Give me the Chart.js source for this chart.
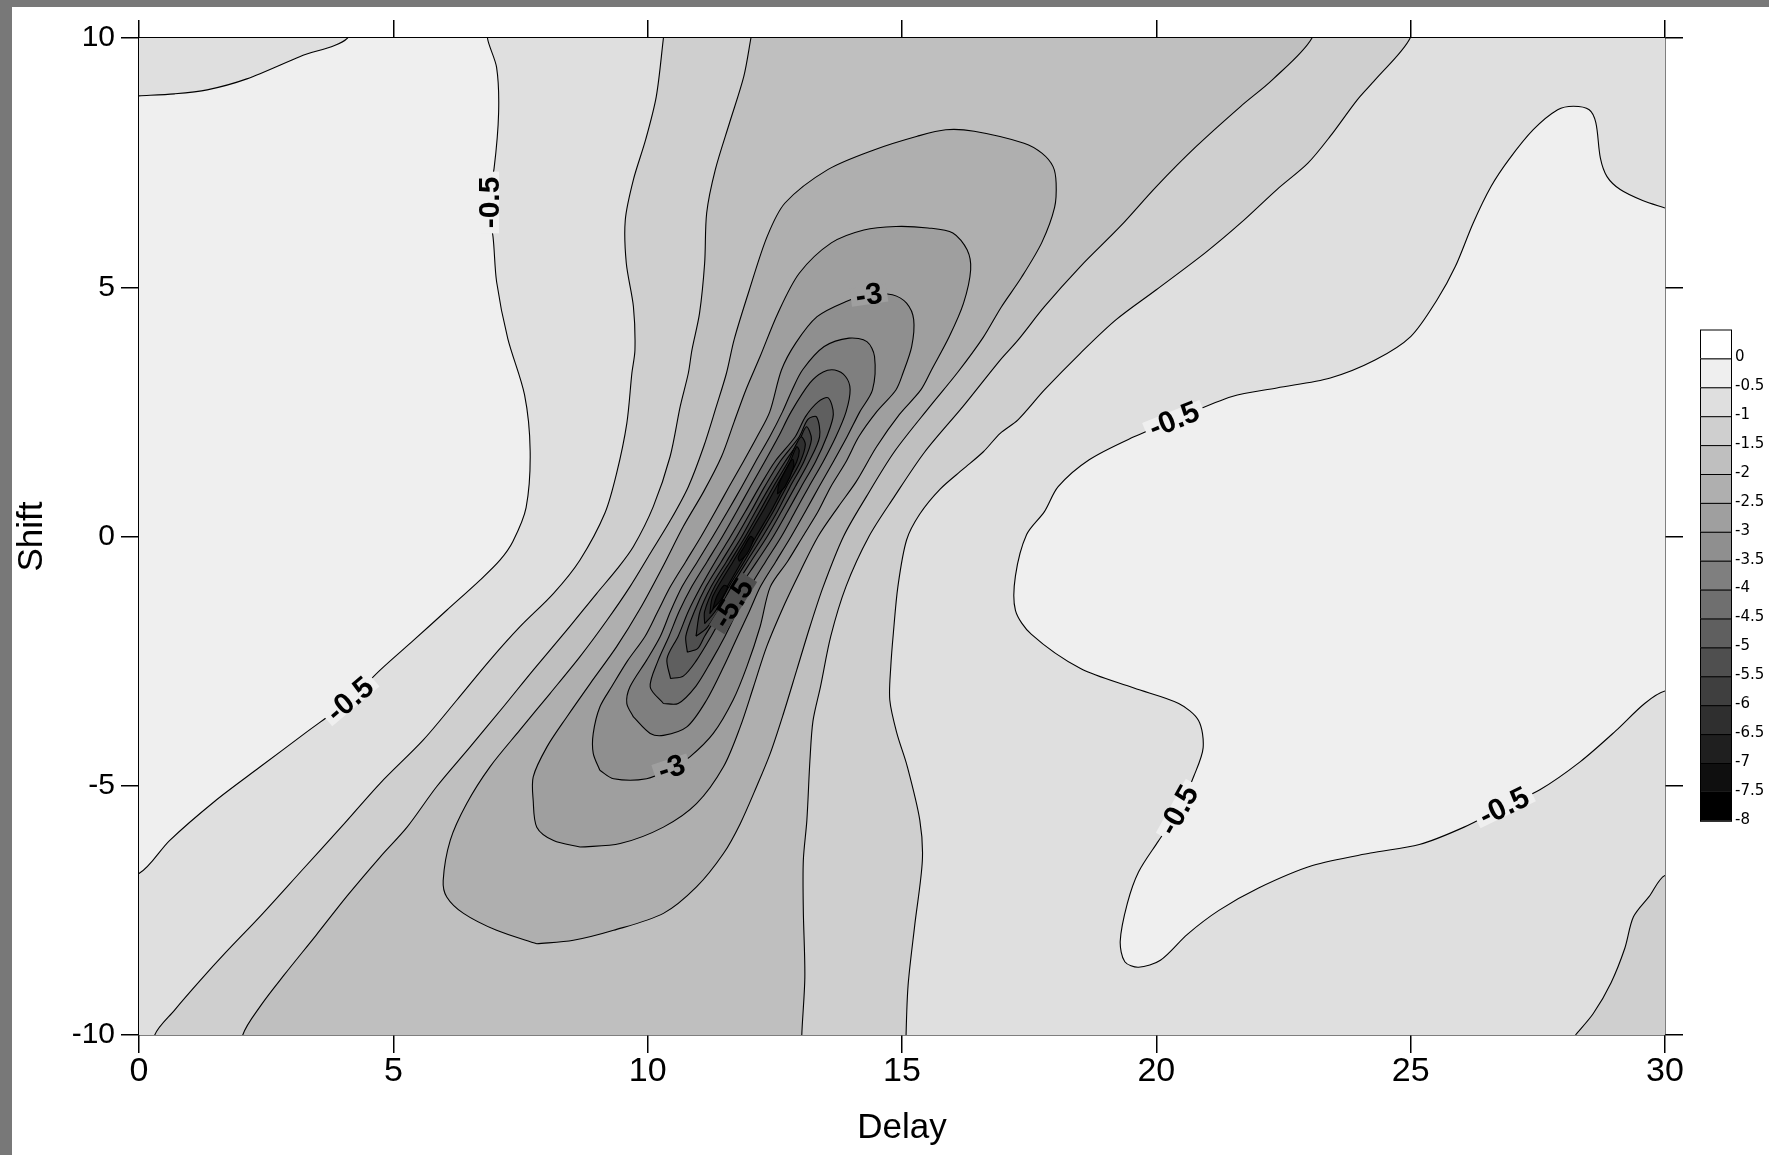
<!DOCTYPE html>
<html>
<head>
<meta charset="utf-8">
<script src="https://cdn.jsdelivr.net/npm/chart.js@4.4.1/dist/chart.umd.min.js"></script>
<style>
  html, body { margin: 0; padding: 0; background: #fff; }
  #frame { width: 1757px; height: 1148px; border-left: 12px solid #787878; border-top: 7px solid #787878; }
  canvas { display: block; }
</style>
</head>
<body>
<div id="frame"><canvas id="chartBox" width="1757" height="1148"></canvas></div>
<script>
// contour levels of the delay/shift surface
const levels = [0, -0.5, -1, -1.5, -2, -2.5, -3, -3.5, -4, -4.5, -5, -5.5, -6, -6.5, -7, -7.5, -8]

// contour traces as [delay, shift]
// -0.5, top left corner
const west05Corner = [[0, 8.84], [0.7, 8.88], [1.34, 8.96], [2.12, 9.18], [3.17, 9.63], [4.1, 10]]
// -0.5, left plateau
const west05 = [[6.85, 10], [7.03, 9.41], [7.07, 8.51], [6.98, 7.38], [6.85, 6.69], [6.96, 6.01], [7.03, 5.11],
  [7.25, 3.97], [7.58, 2.84], [7.69, 1.71], [7.61, 0.58], [7.35, -0.1], [7.1, -0.47], [6.71, -0.87], [6.05, -1.48],
  [5.4, -2.08], [4.74, -2.68], [4.15, -3.27], [3.26, -3.95], [2.37, -4.63], [1.49, -5.31], [0.6, -6.1], [0, -6.76]]
// -0.5, right plateau
const east05 = [[30, 6.59], [29.56, 6.74], [29.12, 6.96], [28.86, 7.22], [28.73, 7.59], [28.64, 8.3], [28.51, 8.56],
  [28.2, 8.63], [27.89, 8.56], [27.41, 8.16], [26.93, 7.56], [26.58, 7.02], [26.23, 6.29], [25.88, 5.42], [25.52, 4.75],
  [25.0, 4.01], [24.3, 3.54], [23.42, 3.18], [22.37, 2.98], [21.49, 2.81], [20.35, 2.34], [19.56, 2.0], [18.68, 1.54],
  [18.07, 1.0], [17.8, 0.5], [17.45, 0.04], [17.23, -0.79], [17.23, -1.48], [17.54, -1.96], [18.51, -2.65],
  [19.56, -3.04], [20.44, -3.35], [20.83, -3.69], [20.92, -4.24], [20.74, -4.8], [20.44, -5.49], [20.04, -6.11],
  [19.65, -6.73], [19.43, -7.36], [19.29, -8.12], [19.38, -8.53], [19.65, -8.64], [20.08, -8.5], [20.61, -7.98],
  [21.23, -7.5], [22.01, -7.05], [23.07, -6.6], [24.21, -6.35], [25.17, -6.18], [26.05, -5.83], [26.84, -5.42],
  [27.54, -5.08], [28.33, -4.52], [29.03, -3.9], [29.6, -3.35], [30, -3.1]]
// -1
const west1 = [[10.31, 10], [10.17, 8.83], [9.96, 7.96], [9.72, 7.16], [9.56, 6.35], [9.58, 5.48], [9.72, 4.61],
  [9.75, 3.74], [9.69, 3.28], [9.59, 2.27], [9.39, 1.27], [9.16, 0.47], [8.67, -0.47], [8.15, -1.14], [7.49, -1.81],
  [6.9, -2.48], [6.25, -3.28], [5.59, -4.08], [4.74, -4.95], [4.0, -5.8], [3.2, -6.7], [2.4, -7.6], [1.7, -8.35],
  [1.2, -8.91], [0.7, -9.5], [0.31, -10]]
const east1 = [[15.08, -10], [15.12, -9.0], [15.25, -7.8], [15.4, -6.5], [15.35, -5.69], [15.1, -4.6], [14.9, -3.95],
  [14.76, -3.28], [14.78, -2.6], [14.83, -1.94], [14.92, -1.0], [15.09, -0.07], [15.35, 0.45], [15.75, 0.95],
  [16.2, 1.35], [16.6, 1.7], [16.93, 2.07], [17.28, 2.34], [17.8, 2.94], [18.51, 3.68], [19.21, 4.35], [20.0, 4.95],
  [20.96, 5.69], [21.66, 6.29], [22.37, 6.96], [22.98, 7.49], [23.42, 8.03], [23.95, 8.76], [24.3, 9.16], [24.99, 10]]
const corner1 = [[28.24, -10], [28.59, -9.57], [28.94, -8.95], [29.21, -8.26], [29.38, -7.63], [29.69, -7.22], [30, -6.8]]
// -1.5
const west15 = [[12.03, 10], [11.89, 9.23], [11.61, 8.3], [11.33, 7.36], [11.16, 6.49], [11.12, 5.48], [11.02, 4.48],
  [10.87, 3.74], [10.8, 3.28], [10.64, 2.61], [10.44, 1.6], [10.11, 0.6], [9.72, -0.2], [9.4, -0.65], [9.0, -1.14],
  [8.41, -1.88], [7.75, -2.68], [7.16, -3.42], [6.51, -4.22], [5.85, -5.02], [5.27, -5.83], [4.74, -6.43],
  [4.1, -7.2], [3.48, -8.0], [2.85, -8.8], [2.4, -9.4], [2.04, -10]]
const east15 = [[13.03, -10], [13.09, -8.84], [13.06, -7.5], [13.06, -6.5], [13.13, -5.69], [13.19, -4.49],
  [13.25, -3.7], [13.4, -3.0], [13.6, -2.0], [13.9, -1.0], [14.35, 0.0], [14.85, 0.8], [15.45, 1.7], [16.2, 2.61],
  [16.93, 3.54], [17.28, 3.94], [17.8, 4.61], [18.51, 5.42], [19.29, 6.22], [20.0, 7.02], [20.79, 7.83],
  [21.66, 8.63], [22.28, 9.16], [23.06, 10]]
// closed loops around the trough
const ring2 = [[7.82, -8.17], [8.54, -8.1], [9.33, -7.9], [10.31, -7.56], [10.96, -7.03], [11.49, -6.36], [11.82, -5.76],
  [12.14, -5.02], [12.41, -4.35], [12.67, -3.55], [12.93, -2.68], [13.19, -1.81], [13.45, -1.01], [13.85, 0.0],
  [14.3, 0.8], [14.85, 1.7], [15.55, 2.61], [16.1, 3.3], [16.6, 4.0], [16.95, 4.6], [17.35, 5.2], [17.75, 5.9],
  [18.0, 6.6], [18.03, 7.09], [17.97, 7.42], [17.75, 7.69], [17.4, 7.89], [16.42, 8.13], [15.86, 8.16], [15.3, 8.03],
  [14.46, 7.76], [13.54, 7.36], [12.7, 6.69], [12.35, 6.02], [12.0, 4.95], [11.7, 3.95], [11.55, 3.28], [11.35, 2.61],
  [11.1, 1.8], [10.8, 1.0], [10.45, 0.33], [10.05, -0.34], [9.65, -1.01], [9.2, -1.68], [8.67, -2.41], [8.08, -3.15],
  [7.49, -3.88], [6.9, -4.62], [6.44, -5.36], [6.12, -6.09], [5.98, -6.9], [6.05, -7.23], [6.38, -7.56], [7.03, -7.9]]
const ring25 = [[8.67, -6.23], [9.46, -6.16], [10.31, -5.83], [10.96, -5.36], [11.49, -4.62], [11.82, -3.82],
  [12.08, -3.02], [12.34, -2.21], [12.7, -1.34], [13.0, -0.7], [13.35, 0.0], [13.75, 0.6], [14.1, 1.1], [14.5, 1.8],
  [14.95, 2.45], [15.37, 2.94], [15.58, 3.34], [15.93, 4.01], [16.21, 4.68], [16.35, 5.35], [16.28, 5.75],
  [16.0, 6.09], [15.51, 6.19], [14.88, 6.22], [14.25, 6.15], [13.61, 5.89], [12.98, 5.28], [12.56, 4.48],
  [12.21, 3.61], [11.93, 2.94], [11.7, 2.3], [11.45, 1.6], [11.1, 0.9], [10.7, 0.2], [10.3, -0.6], [9.85, -1.45],
  [9.39, -2.21], [8.87, -2.95], [8.41, -3.62], [8.02, -4.22], [7.75, -4.82], [7.75, -5.3], [7.82, -5.83], [8.15, -6.1]]
const ring3 = [[9.06, -4.69], [9.33, -4.86], [9.98, -4.86], [10.47, -4.65], [10.83, -4.42], [11.29, -3.95],
  [11.68, -3.28], [11.95, -2.61], [12.21, -1.81], [12.41, -1.01], [12.75, -0.5], [13.05, 0.0], [13.35, 0.5],
  [13.6, 1.0], [13.9, 1.5], [14.15, 2.0], [14.5, 2.5], [14.88, 2.94], [15.02, 3.28], [15.19, 3.81], [15.23, 4.35],
  [15.09, 4.68], [14.81, 4.85], [14.35, 4.85], [13.89, 4.71], [13.33, 4.41], [12.91, 3.88], [12.63, 3.34],
  [12.4, 2.5], [12.15, 2.0], [11.88, 1.5], [11.6, 1.0], [11.33, 0.5], [11.05, 0.0], [10.75, -0.5], [10.45, -1.0],
  [10.2, -1.5], [9.95, -2.0], [9.6, -2.5], [9.3, -3.0], [9.06, -3.42], [8.93, -3.95], [8.93, -4.35]]
const ring35 = [[9.72, -3.62], [10.05, -3.95], [10.31, -3.99], [10.77, -3.82], [11.16, -3.28], [11.5, -2.6],
  [11.77, -2.0], [12.0, -1.5], [12.22, -1.0], [12.52, -0.5], [12.82, 0.0], [13.1, 0.5], [13.37, 1.0], [13.65, 1.5],
  [13.92, 2.0], [14.17, 2.5], [14.42, 2.94], [14.46, 3.61], [14.31, 3.91], [13.96, 3.98], [13.47, 3.81],
  [13.05, 3.35], [12.84, 2.94], [12.65, 2.5], [12.4, 2.0], [12.12, 1.5], [11.85, 1.0], [11.57, 0.5], [11.28, 0.0],
  [10.98, -0.5], [10.68, -1.0], [10.45, -1.5], [10.25, -2.0], [9.98, -2.48], [9.65, -3.02], [9.59, -3.35]]
const ring4 = [[10.31, -3.35], [10.6, -3.35], [10.95, -3.0], [11.25, -2.5], [11.52, -2.0], [11.76, -1.5],
  [12.02, -1.0], [12.32, -0.5], [12.63, 0.0], [12.9, 0.5], [13.17, 1.0], [13.45, 1.5], [13.7, 2.0], [13.9, 2.5],
  [13.98, 2.95], [13.89, 3.21], [13.68, 3.34], [13.45, 3.3], [13.19, 3.08], [12.82, 2.5], [12.57, 2.0], [12.3, 1.5],
  [12.02, 1.0], [11.75, 0.5], [11.47, 0.0], [11.17, -0.5], [10.87, -1.0], [10.62, -1.5], [10.42, -2.0],
  [10.2, -2.5], [10.05, -3.02]]
const ring45 = [[10.45, -2.85], [10.7, -2.8], [10.95, -2.5], [11.25, -2.0], [11.52, -1.5], [11.82, -1.0],
  [12.15, -0.5], [12.47, 0.0], [12.75, 0.5], [13.02, 1.0], [13.3, 1.5], [13.52, 2.0], [13.65, 2.45], [13.55, 2.78],
  [13.35, 2.7], [13.1, 2.4], [12.9, 2.0], [12.5, 1.5], [12.2, 1.0], [11.92, 0.5], [11.63, 0.0], [11.33, -0.5],
  [11.05, -1.0], [10.8, -1.5], [10.6, -2.0], [10.38, -2.45]]
const ring5 = [[10.78, -2.32], [10.98, -2.25], [11.12, -2.0], [11.42, -1.5], [11.72, -1.0], [12.03, -0.5],
  [12.35, 0.0], [12.63, 0.5], [12.9, 1.0], [13.17, 1.5], [13.38, 2.0], [13.32, 2.4], [13.15, 2.35], [12.98, 2.0],
  [12.6, 1.5], [12.3, 1.0], [12.03, 0.5], [11.75, 0.0], [11.45, -0.5], [11.15, -1.0], [10.92, -1.5], [10.75, -2.0]]
const ring55 = [[10.95, -2.0], [11.15, -1.85], [11.38, -1.5], [11.65, -1.0], [11.95, -0.5], [12.26, 0.0],
  [12.55, 0.5], [12.8, 1.0], [13.07, 1.5], [13.22, 1.95], [13.12, 2.2], [12.97, 1.9], [12.7, 1.5], [12.4, 1.0],
  [12.12, 0.5], [11.85, 0.0], [11.55, -0.5], [11.25, -1.0], [11.03, -1.5]]
const ring6 = [[11.12, -1.75], [11.33, -1.5], [11.6, -1.0], [11.9, -0.5], [12.18, 0.0], [12.47, 0.5], [12.73, 1.0],
  [13.0, 1.5], [13.1, 1.85], [13.02, 2.0], [12.92, 1.85], [12.76, 1.5], [12.47, 1.0], [12.2, 0.5], [11.92, 0.0],
  [11.62, -0.5], [11.32, -1.0], [11.12, -1.5]]
const ring65 = [[11.22, -1.55], [11.45, -1.2], [11.85, -0.5], [12.13, 0.0], [12.42, 0.5], [12.68, 1.0],
  [12.93, 1.5], [12.98, 1.72], [12.93, 1.8], [12.8, 1.5], [12.53, 1.0], [12.26, 0.5], [11.97, 0.0], [11.68, -0.5],
  [11.28, -1.2]]
// deepest pockets
const pit7a = [[12.55, 0.85], [12.7, 1.0], [12.87, 1.4], [12.85, 1.55], [12.75, 1.4], [12.58, 1.05]]
const pit7b = [[11.8, -0.5], [11.95, -0.35], [12.08, -0.05], [12.02, 0.0], [11.9, -0.2], [11.78, -0.42]]
const pit7c = [[11.28, -1.45], [11.42, -1.3], [11.57, -1.02], [11.5, -0.98], [11.36, -1.2]]

// labels written on the contour lines
const contourLabels = [
  { level: -0.5, delay: 6.9, shift: 6.7, angle: -90 },
  { level: -0.5, delay: 4.15, shift: -3.27, angle: -40 },
  { level: -0.5, delay: 20.35, shift: 2.34, angle: -22 },
  { level: -0.5, delay: 20.44, shift: -5.49, angle: -61 },
  { level: -0.5, delay: 26.84, shift: -5.42, angle: -26 },
  { level: -3, delay: 14.35, shift: 4.84, angle: -8 },
  { level: -3, delay: 10.47, shift: -4.64, angle: -18 },
  { level: -5.5, delay: 11.68, shift: -1.34, angle: -58 },
]

// band: the upper value of the shaded interval inside each region
const regions = [
  { band: 0, paths: [west05Corner, west05] },
  { band: 0, paths: [east05] },
  { band: -1, paths: [west1, east1] },
  { band: -1, paths: [corner1] },
  { band: -1.5, paths: [west15, east15] },
  { band: -2, paths: [ring2] },
  { band: -2.5, paths: [ring25] },
  { band: -3, paths: [ring3] },
  { band: -3.5, paths: [ring35] },
  { band: -4, paths: [ring4] },
  { band: -4.5, paths: [ring45] },
  { band: -5, paths: [ring5] },
  { band: -5.5, paths: [ring55] },
  { band: -6, paths: [ring6] },
  { band: -6.5, paths: [ring65] },
  { band: -7, paths: [pit7a] },
  { band: -7, paths: [pit7b] },
  { band: -7, paths: [pit7c] },
]

const X_MIN = 0, X_MAX = 30, Y_MIN = -10, Y_MAX = 10, PAD = 0.6

const grayOf = (upper) => {
  const g = Math.max(0, Math.round(239 + 32 * upper))
  return `rgb(${g},${g},${g})`
}

const edgeOf = ([x, y]) => {
  if (x <= X_MIN) return 'left'
  if (x >= X_MAX) return 'right'
  if (y >= Y_MAX) return 'top'
  if (y <= Y_MIN) return 'bottom'
  return null
}

const pushOut = (p) => {
  const [x, y] = p
  switch (edgeOf(p)) {
    case 'left': return [x - PAD, y]
    case 'right': return [x + PAD, y]
    case 'top': return [x, y + PAD]
    default: return [x, y - PAD]
  }
}

// join two traces that end on the frame by walking outside the plot
const bridge = (pts, a, b) => {
  const ea = pushOut(a), eb = pushOut(b)
  pts.push(ea)
  const sa = edgeOf(a), sb = edgeOf(b)
  if (sa !== sb) {
    if (sa === 'left' || sa === 'right') pts.push([ea[0], eb[1]])
    else pts.push([eb[0], ea[1]])
  }
  pts.push(eb)
}

const ring = (paths) => {
  const pts = []
  paths.forEach((p, i) => {
    if (i > 0) bridge(pts, paths[i - 1][paths[i - 1].length - 1], p[0])
    pts.push(...p)
  })
  const first = paths[0][0]
  const lastPath = paths[paths.length - 1]
  const last = lastPath[lastPath.length - 1]
  if (edgeOf(first)) bridge(pts, last, first)
  else pts.push(first)
  return pts.map(([x, y]) => ({ x, y }))
}

const datasets = regions.map((r, i) => ({
  data: ring(r.paths),
  backgroundColor: grayOf(r.band),
  borderColor: '#000',
  borderWidth: 1.1,
  fill: 'shape',
  tension: 0.3,
  pointRadius: 0,
  pointHoverRadius: 0,
  pointHitRadius: 0,
  order: regions.length - i,
}))

const plotFill = {
  id: 'plotFill',
  beforeDatasetsDraw(chart) {
    const { ctx, chartArea: a } = chart
    ctx.save()
    ctx.fillStyle = grayOf(-0.5)
    ctx.fillRect(a.left, a.top, a.right - a.left, a.bottom - a.top)
    ctx.restore()
  }
}

const contourText = {
  id: 'contourText',
  afterDatasetsDraw(chart) {
    const { ctx, chartArea: a, scales: { x, y } } = chart
    ctx.save()
    ctx.beginPath()
    ctx.rect(a.left, a.top, a.right - a.left, a.bottom - a.top)
    ctx.clip()
    ctx.font = 'bold 30px "Liberation Sans", Arial, sans-serif'
    ctx.textAlign = 'center'
    ctx.textBaseline = 'middle'
    contourLabels.forEach(l => {
      const text = String(l.level)
      ctx.save()
      ctx.translate(x.getPixelForValue(l.delay), y.getPixelForValue(l.shift))
      ctx.rotate(l.angle * Math.PI / 180)
      const w = ctx.measureText(text).width
      ctx.fillStyle = grayOf(l.level + 0.5)
      ctx.fillRect(-w / 2 - 5, -9, w + 10, 18)
      ctx.fillStyle = '#000'
      ctx.fillText(text, 0, 1)
      ctx.restore()
    })
    ctx.restore()
  }
}

// shade key on the right
const colorBar = {
  id: 'colorBar',
  afterDraw(chart) {
    const { ctx, chartArea: a } = chart
    const left = a.right + 35, top = 322.5, w = 31, h = 28.9
    ctx.save()
    ctx.lineWidth = 1
    ctx.strokeStyle = '#000'
    ctx.font = '15px "DejaVu Sans", sans-serif'
    ctx.textBaseline = 'middle'
    ctx.textAlign = 'left'
    levels.forEach((lv, k) => {
      const yTop = top + k * h
      ctx.fillStyle = k === 0 ? '#fff' : grayOf(levels[k - 1])
      ctx.fillRect(left, yTop, w, h)
      ctx.strokeRect(left + 0.5, yTop + 0.5, w, h)
      ctx.fillStyle = '#000'
      ctx.fillText(String(lv), left + w + 4, yTop + h - 1)
    })
    ctx.restore()
  }
}

const axisGrid = { drawOnChartArea: false, drawTicks: true, tickLength: 18, color: '#000', lineWidth: 1.5 }
const axisBorder = { display: true, color: '#000', width: 1.5 }

Chart.defaults.font.family = '"Liberation Sans", Arial, sans-serif'
Chart.defaults.color = '#000'

const context = document.querySelector('#chartBox').getContext('2d')
const chart = new Chart(context, {
  type: 'line',
  data: { datasets },
  options: {
    responsive: false,
    animation: false,
    devicePixelRatio: 1,
    events: [],
    layout: { padding: 0 },
    elements: { line: { capBezierPoints: false } },
    plugins: { legend: { display: false }, tooltip: { enabled: false } },
    scales: {
      x: {
        type: 'linear', position: 'bottom', min: X_MIN, max: X_MAX, z: 1,
        grid: axisGrid, border: axisBorder,
        ticks: { stepSize: 5, padding: 2, maxRotation: 0, autoSkip: false, font: { size: 34, lineHeight: 1 } },
        title: { display: true, text: 'Delay', font: { size: 35, lineHeight: 1 }, padding: { top: 0, bottom: 9.5 } },
        afterFit: s => { s.height = 120 }
      },
      x2: {
        type: 'linear', position: 'top', min: X_MIN, max: X_MAX, z: 1,
        grid: axisGrid, border: axisBorder,
        ticks: { stepSize: 5, display: false },
        afterFit: s => { s.height = 31 }
      },
      y: {
        type: 'linear', position: 'left', min: Y_MIN, max: Y_MAX, z: 1,
        grid: axisGrid, border: axisBorder,
        ticks: { stepSize: 5, padding: 6, font: { size: 30, lineHeight: 1 } },
        title: { display: true, text: 'Shift', font: { size: 35, lineHeight: 1 }, padding: { top: 3, bottom: 0 } },
        afterFit: s => { s.width = 127 }
      },
      y2: {
        type: 'linear', position: 'right', min: Y_MIN, max: Y_MAX, z: 1,
        grid: axisGrid, border: axisBorder,
        ticks: { stepSize: 5, display: false },
        afterFit: s => { s.width = 104 }
      }
    }
  },
  plugins: [plotFill, contourText, colorBar]
})
</script>
</body>
</html>
